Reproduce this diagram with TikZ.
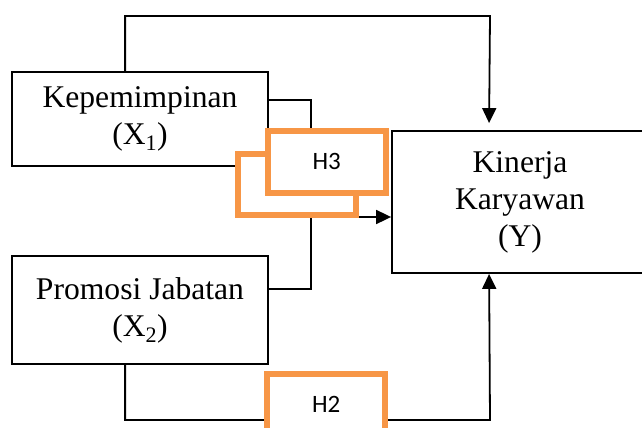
\documentclass[tikz,border=0pt]{standalone}
\usepackage{fontspec}
\setmainfont{Liberation Serif}
\newfontfamily\labelfont{Carlito}
\usetikzlibrary{arrows.meta}
\definecolor{hyporange}{HTML}{F79646}
\begin{document}
\begin{tikzpicture}[x=1pt,y=-1pt,
  varbox/.style={draw, line width=1.8pt, fill=white, minimum width=256pt,
    inner sep=0pt, align=center, font=\fontsize{31.6}{37}\selectfont},
  hypbox/.style={draw=hyporange, line width=6pt, fill=white,
    minimum width=118pt, minimum height=61.5pt, inner sep=0pt,
    font=\labelfont\fontsize{25}{29}\selectfont},
  conn/.style={line width=1.8pt},
  arr/.style={conn, -{Triangle[length=15pt,width=14pt]}}]

\useasboundingbox (0,0) rectangle (642,428);
\clip (0,0) rectangle (642,428);

% variables
\node[varbox, minimum height=94pt]  (kep)  at (140,119) {Kepemimpinan\\(X\textsubscript{1})};
\node[varbox, minimum height=108pt] (prom) at (140,310) {Promosi Jabatan\\(X\textsubscript{2})};
\node[varbox, minimum height=142pt] (kin)  at (520,202) {Kinerja\\Karyawan\\(Y)};

% bend points of the connectors
\coordinate (topbend) at (490,16);
\coordinate (botbend) at (490,420);
\coordinate (kepjoin) at (311,140);
\coordinate (midjoin) at (311,217);

% connectors
\draw[arr] ([xshift=114pt]kep.north west) |- (topbend)
  -- ([xshift=98pt,yshift=7pt]kin.north west);
\draw[conn] ([yshift=19pt]kep.east) -| (kepjoin);
\draw[arr] ([yshift=21pt]prom.east) -| (midjoin) -- (midjoin -| kin.west);
\draw[arr] ([xshift=114pt]prom.south west) |- (botbend)
  -- ([xshift=98pt]kin.south west);

% hypothesis labels
\node[hypbox] (h3back) at (297.25,184.5) {};
\node[hypbox] (h3) at (326.75,161.75) {H3};
\node[hypbox] (h2) at (326.25,404.75) {H2};
\end{tikzpicture}
\end{document}
